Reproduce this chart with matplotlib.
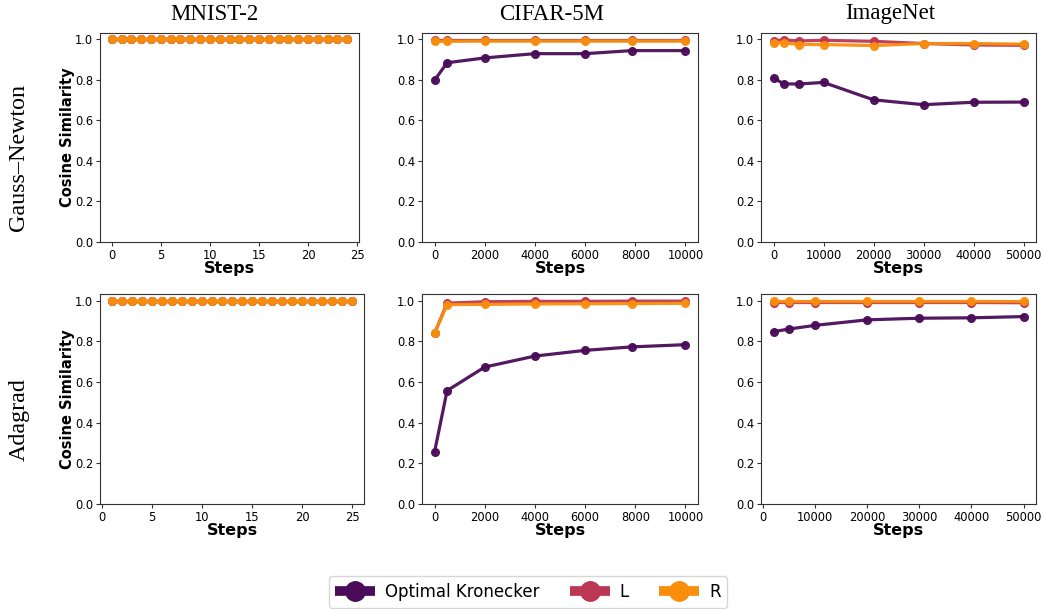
import matplotlib
matplotlib.use("Agg")
import matplotlib.pyplot as plt
from matplotlib.lines import Line2D

# ---- data ----
mnist_gn_steps = list(range(0, 25))
mnist_gn_ok = [1.0] * 25
mnist_gn_l = [1.0] * 25
mnist_gn_r = [1.0] * 25

mnist_ada_steps = list(range(1, 26))
mnist_ada_ok = [1.0] * 25
mnist_ada_l = [1.0] * 25
mnist_ada_r = [1.0] * 25

cifar_steps = [0, 500, 2000, 4000, 6000, 7850, 10000]
cifar_gn_ok = [0.799, 0.885, 0.909, 0.930, 0.930, 0.945, 0.945]
cifar_gn_l = [0.999, 0.999, 0.999, 0.999, 0.999, 0.999, 0.999]
cifar_gn_r = [0.991, 0.991, 0.992, 0.992, 0.992, 0.992, 0.992]
cifar_ada_ok = [0.256, 0.557, 0.673, 0.727, 0.755, 0.772, 0.783]
cifar_ada_l = [0.839, 0.987, 0.994, 0.996, 0.996, 0.997, 0.997]
cifar_ada_r = [0.839, 0.980, 0.981, 0.983, 0.984, 0.985, 0.986]

imnet_gn_steps = [0, 2000, 5000, 10000, 20000, 30000, 40000, 50000]
imnet_gn_ok = [0.811, 0.781, 0.780, 0.788, 0.702, 0.678, 0.690, 0.691]
imnet_gn_l = [0.993, 0.998, 0.993, 0.996, 0.991, 0.980, 0.973, 0.971]
imnet_gn_r = [0.985, 0.985, 0.975, 0.975, 0.970, 0.980, 0.980, 0.977]

imnet_ada_steps = [2000, 5000, 10000, 20000, 30000, 40000, 50000]
imnet_ada_ok = [0.847, 0.860, 0.878, 0.905, 0.913, 0.915, 0.921]
imnet_ada_l = [0.990, 0.990, 0.990, 0.990, 0.990, 0.990, 0.989]
imnet_ada_r = [0.998, 0.998, 0.998, 0.998, 0.998, 0.998, 0.998]

col_titles = ["MNIST-2", "CIFAR-5M", "ImageNet"]
row_titles = ["Gauss\u2013Newton", "Adagrad"]
series_names = ["Optimal Kronecker", "L", "R"]
colors = ["#4a0c58", "#bc3754", "#f98e0c"]

panels = [
    [(mnist_gn_steps, mnist_gn_ok, mnist_gn_l, mnist_gn_r),
     (cifar_steps, cifar_gn_ok, cifar_gn_l, cifar_gn_r),
     (imnet_gn_steps, imnet_gn_ok, imnet_gn_l, imnet_gn_r)],
    [(mnist_ada_steps, mnist_ada_ok, mnist_ada_l, mnist_ada_r),
     (cifar_steps, cifar_ada_ok, cifar_ada_l, cifar_ada_r),
     (imnet_ada_steps, imnet_ada_ok, imnet_ada_l, imnet_ada_r)],
]
xticks = [None, [0, 2000, 4000, 6000, 8000, 10000],
          [0, 10000, 20000, 30000, 40000, 50000]]

W, H = 1042, 609
fig = plt.figure(figsize=(W / 100, H / 100), dpi=100)

# axes boxes in pixels: (left, right) per column, (top, bottom) per row
col_px = [[(100, 359), (422, 698), (761, 1036)],
          [(100, 364), (422, 698), (761, 1036)]]
row_px = [(33, 242), (294, 504)]

for r in range(2):
    for c in range(3):
        (x0, x1), (y0, y1) = col_px[r][c], row_px[r]
        ax = fig.add_axes([x0 / W, 1 - y1 / H, (x1 - x0) / W, (y1 - y0) / H])
        steps, ok, l, rr = panels[r][c]
        for vals, col in zip((ok, l, rr), colors):
            ax.plot(steps, vals, color=col, lw=2.3, marker="o", ms=5.5, alpha=0.95)
        ax.set_ylim(0, 1.032)
        ax.set_yticks([0.0, 0.2, 0.4, 0.6, 0.8, 1.0])
        if xticks[c] is not None:
            ax.set_xticks(xticks[c])
        ax.tick_params(labelsize=8.3, length=3, pad=2, color="#333333")
        for s in ax.spines.values():
            s.set_color("#333333")
        ax.set_xlabel("Steps", fontsize=11.5, fontweight="bold", labelpad=-0.5)
        if c == 0:
            ax.set_ylabel("Cosine Similarity", fontsize=10.5, fontweight="bold", labelpad=0)

# column titles and row labels (serif)
for x, t in zip([214, 552, 890], col_titles):
    fig.text(x / W, 1 - 14 / H, t, ha="center", va="center",
             family="Liberation Serif", fontsize=16.5)
for y, t in zip([157, 420], row_titles):
    fig.text(19 / W, 1 - y / H, t, ha="center", va="center", rotation=90,
             family="Liberation Serif", fontsize=17.3)

handles = [Line2D([], [], color=col, lw=7, marker="o", ms=14, solid_capstyle="butt")
           for col in colors]
fig.legend(handles, series_names, loc="center", bbox_to_anchor=(528 / W, 1 - 592 / H),
           ncol=3, fontsize=12, handlelength=2.4, handletextpad=0.6,
           columnspacing=1.8, frameon=True)

fig.savefig("out.png", dpi=100)
